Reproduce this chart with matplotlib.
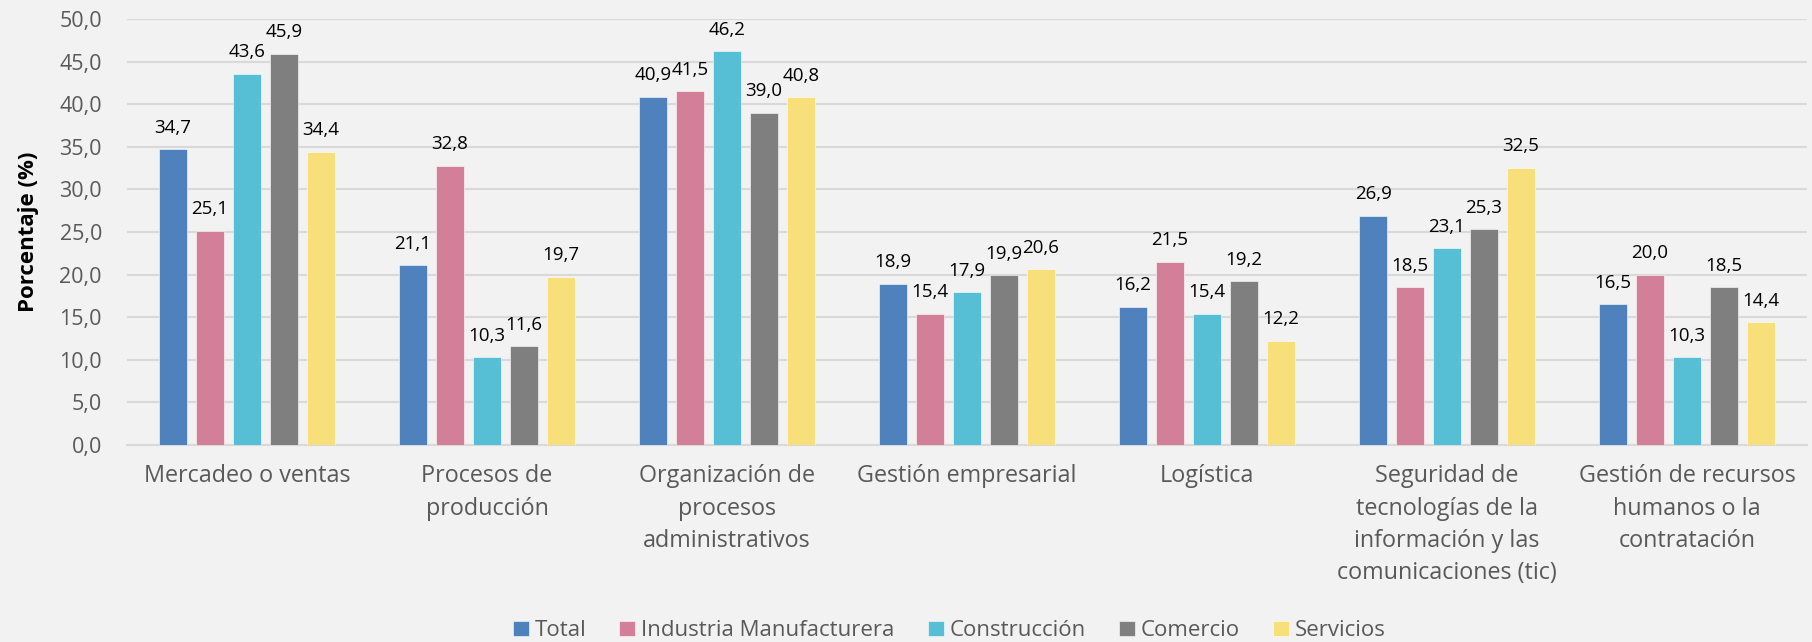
import matplotlib
matplotlib.use("Agg")
import matplotlib.pyplot as plt
import numpy as np

categories = [
    "Mercadeo o ventas",
    "Procesos de\nproducción",
    "Organización de\nprocesos\nadministrativos",
    "Gestión empresarial",
    "Logística",
    "Seguridad de\ntecnologías de la\ninformación y las\ncomunicaciones (tic)",
    "Gestión de recursos\nhumanos o la\ncontratación",
]
series_names = ["Total", "Industria Manufacturera", "Construcción", "Comercio", "Servicios"]
total = [34.7, 21.1, 40.9, 18.9, 16.2, 26.9, 16.5]
industria = [25.1, 32.8, 41.5, 15.4, 21.5, 18.5, 20.0]
construccion = [43.6, 10.3, 46.2, 17.9, 15.4, 23.1, 10.3]
comercio = [45.9, 11.6, 39.0, 19.9, 19.2, 25.3, 18.5]
servicios = [34.4, 19.7, 40.8, 20.6, 12.2, 32.5, 14.4]
yticks = [0, 5, 10, 15, 20, 25, 30, 35, 40, 45, 50]

colors = ["#4F81BD", "#D47F99", "#56BFD6", "#7F7F7F", "#F7E07A"]
bg = "#F2F2F2"

plt.rcParams["font.family"] = ["Open Sans", "DejaVu Sans"]

fig = plt.figure(figsize=(18.12, 6.42), dpi=100, facecolor=bg)
ax = fig.add_axes([127 / 1812, 1 - 445 / 642, 1680 / 1812, (445 - 19) / 642])
ax.set_facecolor(bg)

x = np.arange(len(categories))
width = 0.12
pitch = 0.154
all_series = [total, industria, construccion, comercio, servicios]
for i, (name, vals, c) in enumerate(zip(series_names, all_series, colors)):
    pos = x + (i - 2) * pitch
    ax.bar(pos, vals, width=width, color=c, label=name, zorder=3,
           edgecolor="white", linewidth=0.4)
    for px, v in zip(pos, vals):
        ax.annotate(f"{v:.1f}".replace(".", ","), (px, v), xytext=(0, 12),
                    textcoords="offset points", ha="center", va="baseline",
                    fontsize=13.5, color="black")

ax.set_xlim(-0.5, len(categories) - 0.5)
ax.set_ylim(0, 50)
ax.set_yticks(yticks)
ax.set_yticklabels([f"{t:.1f}".replace(".", ",") for t in yticks],
                   fontsize=15.5, color="#595959")
ax.set_xticks(x)
ax.set_xticklabels(categories, fontsize=16.8, color="#595959", linespacing=1.45)
ax.tick_params(axis="both", length=0)
ax.tick_params(axis="x", pad=14)
ax.tick_params(axis="y", pad=18)
ax.grid(axis="y", color="#D9D9D9", linewidth=1.5, zorder=0)
for s in ["top", "right", "left"]:
    ax.spines[s].set_visible(False)
ax.spines["bottom"].set_color("#D9D9D9")
ax.spines["bottom"].set_linewidth(1.5)

ax.set_ylabel("Porcentaje (%)", fontsize=16, fontweight="bold", color="black", labelpad=15)

leg = fig.legend(loc="center", bbox_to_anchor=(949 / 1812, 1 - 631 / 642), ncol=5,
                 frameon=False, fontsize=16, handlelength=0.72, handleheight=0.68,
                 handletextpad=0.25, columnspacing=1.5)
for t in leg.get_texts():
    t.set_color("#595959")

fig.savefig("out.png", dpi=100, facecolor=bg)
